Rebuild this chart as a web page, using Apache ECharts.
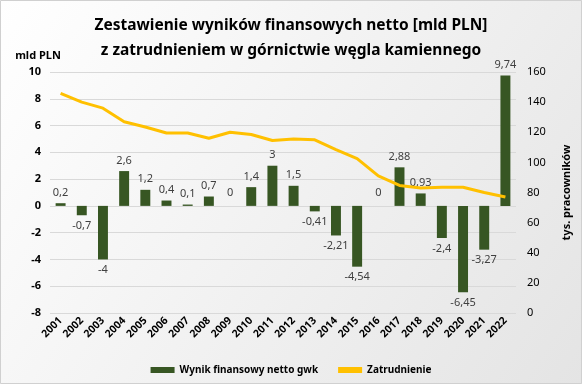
<!DOCTYPE html>
<html><head><meta charset="utf-8">
<script src="https://cdn.jsdelivr.net/npm/echarts@6/dist/echarts.min.js"></script>
<style>html,body{margin:0;padding:0;}#c{width:582px;height:384px;}</style>
</head><body><div id="c"></div>
<script>
const years = ['2001','2002','2003','2004','2005','2006','2007','2008','2009','2010','2011','2012','2013','2014','2015','2016','2017','2018','2019','2020','2021','2022'];
const wynik = [0.2,-0.7,-4,2.6,1.2,0.4,0.1,0.7,0,1.4,3,1.5,-0.41,-2.21,-4.54,0,2.88,0.93,-2.4,-6.45,-3.27,9.74];
const zatrudnienie = [145.8,140,136,127,123.5,119.5,119.5,116,120,118.5,114.5,115.5,115,108.5,102.5,91,84.7,83,83.5,83.5,80,77];

const chart = echarts.init(document.getElementById('c'));
const fmt = v => String(v).replace('.', ',');
const barData = wynik.map(v => v < 0 ? {value:v,label:{position:'bottom'}} : (v===0 ? {value:v,label:{position:'top',distance:8}} : v));
chart.setOption({
  backgroundColor: new echarts.graphic.LinearGradient(0,0,1,1,[{offset:0,color:'#ffffff'},{offset:1,color:'#e4e4e4'}]),
  textStyle:{fontFamily:'Noto Sans'},
  graphic:[{type:'rect',shape:{x:0.5,y:0.5,width:581,height:383},style:{fill:'none',stroke:'#d0d0d0',lineWidth:1},silent:true}],
  title:{
    text:'Zestawienie wyników finansowych netto [mld PLN]\nz zatrudnieniem w górnictwie węgla kamiennego',
    left:'center', top:8,
    textStyle:{fontSize:15.5,fontWeight:'bold',color:'#000',lineHeight:25,fontFamily:'Noto Sans'}
  },
  legend:{
    bottom:4, left:'center', itemGap:20,
    textStyle:{fontSize:10,fontWeight:'bold',color:'#000',fontFamily:'Noto Sans'},
    data:[{name:'Wynik finansowy netto gwk',icon:'rect'},{name:'Zatrudnienie',icon:'rect'}],
    itemWidth:24,itemHeight:6
  },
  grid:{left:50,right:66,top:72,bottom:71},
  xAxis:{
    type:'category', data:years,
    axisLine:{show:false}, axisTick:{show:false},
    axisLabel:{rotate:45,fontSize:10.5,fontWeight:'bold',color:'#000',interval:0,margin:6}
  },
  yAxis:[
    {type:'value',min:-8,max:10,interval:2,
     name:'mld PLN',nameLocation:'end',nameGap:11,
     nameTextStyle:{fontSize:11,fontWeight:'bold',color:'#000',align:'center',padding:[0,0,0,-24]},
     axisLabel:{fontSize:11,fontWeight:'bold',color:'#000',margin:9,formatter:v=>String(v)},
     splitLine:{lineStyle:{color:'#d9d9d9'}},axisLine:{show:false},axisTick:{show:false}},
    {type:'value',min:0,max:160,interval:20,
     name:'tys. pracowników',nameLocation:'middle',nameGap:45,nameRotate:90,
     nameTextStyle:{fontSize:11,fontWeight:'bold',color:'#000'},
     axisLabel:{fontSize:11,color:'#000',margin:11},
     splitLine:{show:false},axisLine:{show:false},axisTick:{show:false}}
  ],
  series:[
    {name:'Wynik finansowy netto gwk',type:'bar',yAxisIndex:0,data:barData,barWidth:'47%',
     itemStyle:{color:'#375623'},
     label:{show:true,fontSize:11,color:'#404040',fontFamily:'Noto Sans',
       formatter:p=>fmt(p.value),position:'top'}},
    {name:'Zatrudnienie',type:'line',yAxisIndex:1,data:zatrudnienie,symbol:'none',
     lineStyle:{color:'#FFC000',width:3},itemStyle:{color:'#FFC000'},z:3}
  ]
});
</script></body></html>
